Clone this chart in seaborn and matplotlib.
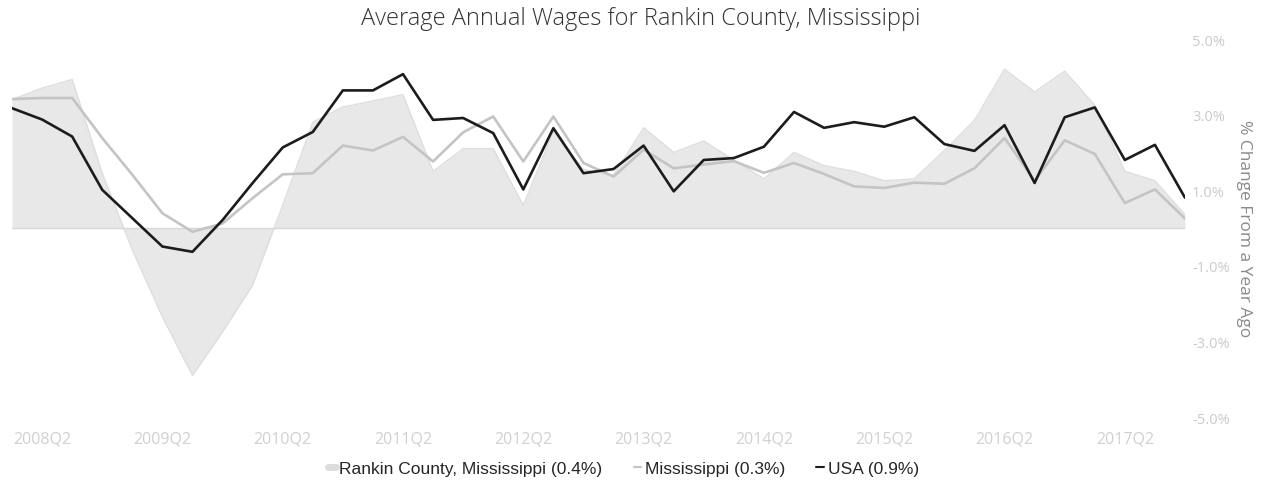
"""
Average Annual Wages for Rankin County, Mississippi
% change from a year ago, quarterly
"""

import numpy as np
import pandas as pd
import matplotlib.pyplot as plt
import seaborn as sns
from matplotlib.lines import Line2D

# Veriler
quarters = [f"{y}Q{q}" for y in range(2008, 2018) for q in range(1, 5)]
tick_labels = ["2008Q2", "2009Q2", "2010Q2", "2011Q2", "2012Q2",
               "2013Q2", "2014Q2", "2015Q2", "2016Q2", "2017Q2"]
y_ticks = [5, 3, 1, -1, -3, -5]

rankin = [3.40, 3.70, 3.93, 1.45, -0.58, -2.35, -3.90, -2.75, -1.51, 0.60,
          2.80, 3.20, 3.36, 3.53, 1.50, 2.10, 2.10, 0.60, 2.55, 1.55,
          1.40, 2.65, 2.00, 2.30, 1.80, 1.30, 2.00, 1.65, 1.50, 1.25,
          1.30, 2.05, 2.85, 4.20, 3.60, 4.15, 3.25, 1.50, 1.25, 0.35]
mississippi = [3.41, 3.44, 3.44, 2.38, 1.41, 0.39, -0.10, 0.12, 0.79, 1.42,
               1.45, 2.18, 2.05, 2.41, 1.76, 2.53, 2.95, 1.76, 2.95, 1.72,
               1.36, 2.07, 1.58, 1.68, 1.77, 1.46, 1.72, 1.43, 1.10, 1.06,
               1.20, 1.17, 1.58, 2.38, 1.25, 2.32, 1.96, 0.66, 1.02, 0.25]
usa = [3.17, 2.87, 2.42, 1.01, 0.26, -0.49, -0.63, 0.21, 1.19, 2.13,
       2.54, 3.64, 3.64, 4.07, 2.86, 2.91, 2.51, 1.02, 2.64, 1.45,
       1.56, 2.18, 0.97, 1.80, 1.85, 2.15, 3.07, 2.65, 2.80, 2.68,
       2.93, 2.22, 2.04, 2.72, 1.19, 2.93, 3.19, 1.80, 2.20, 0.80]

legend_labels = ["Rankin County, Mississippi (0.4%)", "Mississippi (0.3%)", "USA (0.9%)"]

sns.set_style("white")
plt.rcParams['font.family'] = ['Open Sans', 'DejaVu Sans']

fig = plt.figure(figsize=(12.67, 5.02), dpi=100)
ax = fig.add_axes([12 / 1267, 84 / 502, 1173 / 1267, 378 / 502])

x = np.arange(len(quarters))

# Rankin County alanı
ax.fill_between(x, rankin, 0, color='#e8e8e8', linewidth=0, zorder=1)
ax.plot(x, rankin, color='#dedede', linewidth=1, zorder=1)
ax.axhline(0, color='#d8d8d8', linewidth=1, zorder=1)

# Mississippi ve USA çizgileri
df = pd.DataFrame({'idx': x, 'Mississippi': mississippi, 'USA': usa})
df = df.melt(id_vars='idx', var_name='series', value_name='value')
sns.lineplot(data=df, x='idx', y='value', hue='series',
             palette={'Mississippi': '#c4c4c4', 'USA': '#1c1c1c'},
             linewidth=1.9, ax=ax, legend=False, zorder=3)

ax.set_xlim(0, len(quarters) - 1)
ax.set_ylim(-5, 5)

# Eksenler
ax.set_xticks([quarters.index(t) for t in tick_labels])
ax.set_xticklabels(tick_labels)
ax.tick_params(axis='x', length=0, pad=10, labelsize=11.5, labelcolor='#d0d0d0')

ax.yaxis.tick_right()
ax.yaxis.set_label_position('right')
ax.set_yticks(y_ticks)
ax.set_yticklabels([f"{v:.1f}%" for v in y_ticks])
ax.tick_params(axis='y', length=0, pad=5, labelsize=10.5, labelcolor='#cacaca')
ax.set_ylabel('% Change From a Year Ago', rotation=270, labelpad=16,
              fontsize=12.5, color='#8a8a8a')
ax.set_xlabel('')

for s in ax.spines.values():
    s.set_visible(False)

fig.suptitle('Average Annual Wages for Rankin County, Mississippi',
             x=0.506, y=0.987, fontsize=17, color='#333333', fontweight='light')

# Lejant
handles = [
    Line2D([0], [0], color='#dddddd', linewidth=5),
    Line2D([0], [0], color='#c4c4c4', linewidth=1.5),
    Line2D([0], [0], color='#1c1c1c', linewidth=1.5),
]
fig.legend(handles, legend_labels, loc='center', bbox_to_anchor=(0.492, 0.064),
           ncol=3, frameon=False, handlelength=0.45, handletextpad=0.2,
           columnspacing=1.8, prop={'family': 'Liberation Sans', 'size': 12.5})

plt.savefig('out.png', dpi=100)
plt.close()
